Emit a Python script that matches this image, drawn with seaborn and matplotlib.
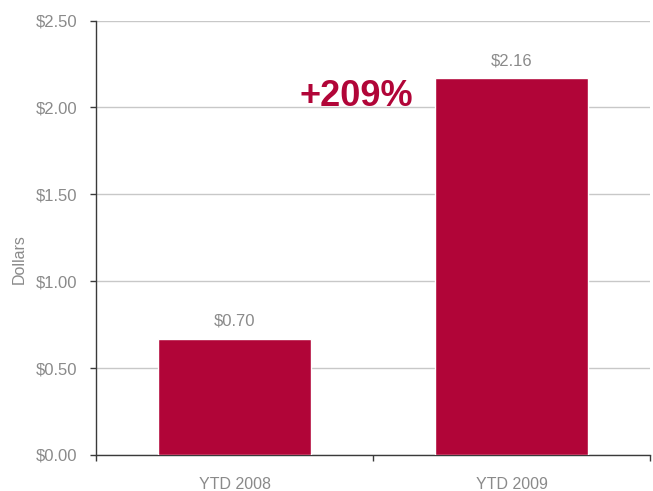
import matplotlib
matplotlib.use("Agg")
import matplotlib.pyplot as plt
import seaborn as sns
import pandas as pd
from matplotlib.ticker import FixedLocator, FuncFormatter

categories = ["YTD 2008", "YTD 2009"]
values = [0.67, 2.17]
value_labels = ["$0.70", "$2.16"]
y_ticks = [0.0, 0.5, 1.0, 1.5, 2.0, 2.5]
growth_label = "+209%"
y_label = "Dollars"

bar_color = "#B10538"
text_gray = "#8a8a8a"

sns.set_theme(style="white")
plt.rcParams["font.family"] = ["Liberation Sans", "DejaVu Sans"]

df = pd.DataFrame({"cat": categories, "val": values})

fig = plt.figure(figsize=(6.53, 4.91), dpi=100)
ax = fig.add_axes([96 / 653, 1 - 455 / 491, (650 - 96) / 653, (455 - 20.5) / 491])

sns.barplot(data=df, x="cat", y="val", color=bar_color, width=0.55,
            saturation=1, ax=ax, zorder=3)

ax.set_xlim(-0.5, 1.5)
ax.set_ylim(0, 2.5)
ax.set_yticks(y_ticks)
ax.yaxis.set_major_formatter(FuncFormatter(lambda v, p: f"${v:.2f}"))
ax.grid(axis="y", color="#c8c8c8", linewidth=1, zorder=0)
ax.set_axisbelow(True)

for s in ["top", "right"]:
    ax.spines[s].set_visible(False)
ax.spines["left"].set_color("#3a3a3a")
ax.spines["bottom"].set_color("#3a3a3a")
ax.spines["left"].set_linewidth(1)
ax.spines["bottom"].set_linewidth(1)

ax.tick_params(axis="y", which="major", left=True, length=4.5, width=1,
               color="#3a3a3a", pad=9, labelsize=12, labelcolor=text_gray)
ax.tick_params(axis="x", which="major", bottom=False, length=0, pad=16,
               labelsize=11.5, labelcolor=text_gray)
ax.xaxis.set_minor_locator(FixedLocator([-0.5, 0.5, 1.5]))
ax.tick_params(axis="x", which="minor", bottom=True, length=4.5, width=1,
               color="#3a3a3a")

ax.set_xlabel("")
ax.set_ylabel(y_label, fontsize=11.5, color=text_gray)
ax.yaxis.set_label_coords(-0.125, 0.45)

for i, (v, lab) in enumerate(zip(values, value_labels)):
    ax.annotate(lab, xy=(i, v), xytext=(0, 7), textcoords="offset points",
                ha="center", va="bottom", fontsize=12, color=text_gray)

ax.text(0.44, 2.01, growth_label, ha="center", va="baseline", fontsize=26,
        fontweight="bold", color=bar_color)

fig.savefig("out.png", dpi=100)
